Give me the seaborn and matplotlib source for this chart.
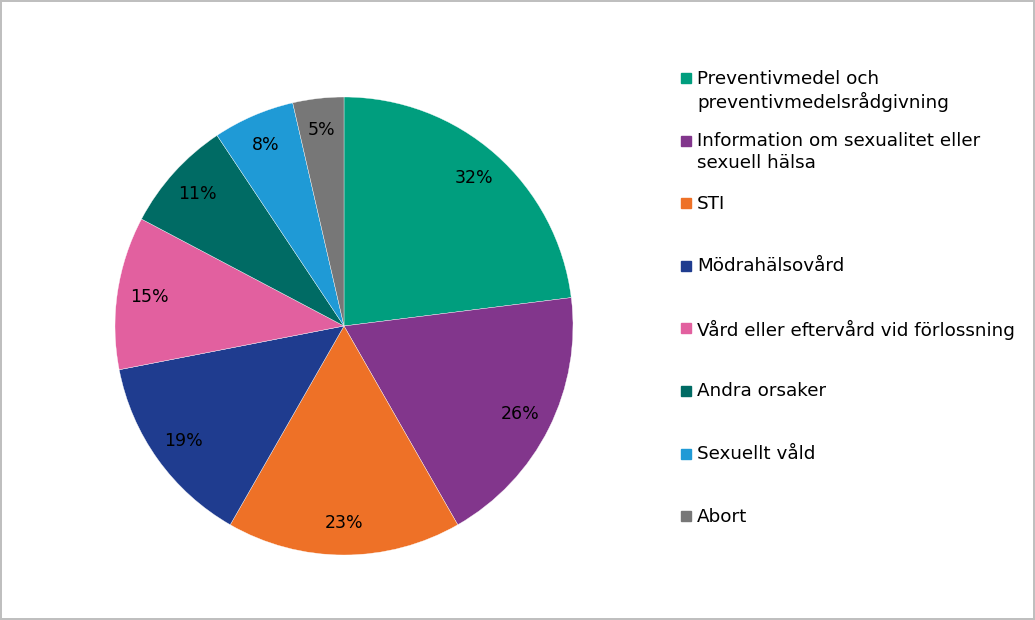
import matplotlib
matplotlib.use("Agg")
import matplotlib.pyplot as plt
import seaborn as sns
from matplotlib.lines import Line2D

sns.set_theme(style="white")
plt.rcParams["font.family"] = ["DejaVu Sans"]

# ---- data ----
categories = [
    "Preventivmedel och\npreventivmedelsrådgivning",
    "Information om sexualitet eller\nsexuell hälsa",
    "STI",
    "Mödrahälsovård",
    "Vård eller eftervård vid förlossning",
    "Andra orsaker",
    "Sexuellt våld",
    "Abort",
]
values = [32, 26, 23, 19, 15, 11, 8, 5]
colors = ["#009E7E", "#82368C", "#EE7127", "#1F3C8F",
          "#E2609F", "#006B64", "#1F9AD6", "#777777"]

W, H = 1035, 620
fig = plt.figure(figsize=(W / 100, H / 100), dpi=100)
fig.patch.set_facecolor("white")
fig.patch.set_edgecolor("#BFBFBF")
fig.patch.set_linewidth(1.5)

# pie centered at (344, 326) px, radius 229 px
cx, cy, r = 344, 326, 229
ax = fig.add_axes([(cx - r) / W, (H - cy - r) / H, 2 * r / W, 2 * r / H])
total = sum(values)
wedges, texts, autotexts = ax.pie(
    values,
    colors=colors,
    startangle=90,
    counterclock=False,
    autopct=lambda p: f"{p * total / 100:.0f}%",
    pctdistance=0.86,
    wedgeprops=dict(edgecolor="white", linewidth=0.25),
    textprops=dict(fontsize=12.5, color="black"),
)
ax.set_xlim(-1, 1)
ax.set_ylim(-1, 1)
ax.set_aspect("equal")
ax.axis("off")

# legend, entries evenly spaced like the original
y0, step = 78, 62.6
for i, (lab, col) in enumerate(zip(categories, colors)):
    y = y0 + i * step
    fig.add_artist(Line2D([686 / W], [1 - y / H], marker="s", markersize=7.5,
                          color=col, linestyle="none",
                          transform=fig.transFigure))
    fig.text(697 / W, 1 - (y - 8.5) / H, lab, fontsize=13.2, va="top",
             ha="left", linespacing=1.3, color="black")

fig.savefig("out.png", dpi=100)
